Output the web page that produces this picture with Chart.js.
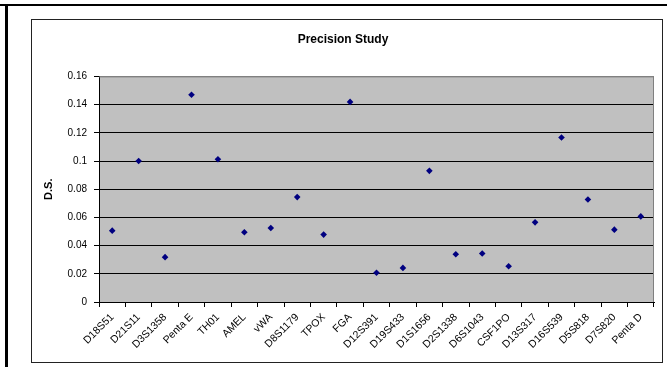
<!DOCTYPE html>
<html>
<head>
<meta charset="utf-8">
<title>Precision Study</title>
<script src="https://cdn.jsdelivr.net/npm/chart.js@4/dist/chart.umd.min.js"></script>
<style>
  html, body { margin: 0; padding: 0; background: #fff; }
  #wrap { position: relative; width: 667px; height: 367px; }
</style>
</head>
<body>
<div id="wrap"><canvas id="precisionChart" width="667" height="367"></canvas></div>
<script>
// ── Data ──────────────────────────────────────────────────────
const loci = ['D18S51', 'D21S11', 'D3S1358', 'Penta E', 'TH01', 'AMEL', 'vWA', 'D8S1179', 'TPOX', 'FGA',
  'D12S391', 'D19S433', 'D1S1656', 'D2S1338', 'D6S1043', 'CSF1PO', 'D13S317', 'D16S539', 'D5S818', 'D7S820', 'Penta D'];
const sdValues = [0.0506, 0.1000, 0.0318, 0.1470, 0.1012, 0.0495, 0.0525, 0.0744, 0.0478, 0.1419,
  0.0207, 0.0242, 0.0930, 0.0339, 0.0344, 0.0254, 0.0565, 0.1167, 0.0727, 0.0513, 0.0607];
const yTicks = [0, 0.02, 0.04, 0.06, 0.08, 0.1, 0.12, 0.14, 0.16];

const FONT = "'Liberation Sans', Arial, sans-serif";

// ── Frames: sheet border + chart area border ──────────────────
const framePlugin = {
  id: 'frames',
  beforeDraw(chart) {
    const ctx = chart.ctx;
    ctx.save();
    ctx.fillStyle = '#fff';
    ctx.fillRect(0, 0, chart.width, chart.height);
    // sheet edges (top / left)
    ctx.fillStyle = '#000';
    ctx.fillRect(0, 4, chart.width, 2);
    ctx.fillRect(5, 4, 3, chart.height - 4);
    // chart area box
    ctx.strokeStyle = '#222';
    ctx.lineWidth = 1;
    ctx.strokeRect(31.5, 19.5, 631, 343);
    // plot background
    const a = chart.chartArea;
    ctx.fillStyle = '#c0c0c0';
    ctx.fillRect(a.left, a.top, a.right - a.left, a.bottom - a.top);
    ctx.restore();
  },
  beforeDatasetsDraw(chart) {
    // plot border on top and right
    const a = chart.chartArea;
    const ctx = chart.ctx;
    ctx.save();
    ctx.strokeStyle = '#808080';
    ctx.lineWidth = 1;
    ctx.beginPath();
    ctx.moveTo(a.left, a.top + 0.5);
    ctx.lineTo(a.right - 0.5, a.top + 0.5);
    ctx.lineTo(a.right - 0.5, a.bottom);
    ctx.stroke();
    ctx.restore();
  }
};

new Chart(document.getElementById('precisionChart'), {
  type: 'line',
  data: {
    labels: loci,
    datasets: [{
      label: 'S.D.',
      data: sdValues,
      showLine: false,
      pointStyle: 'rectRot',
      pointRadius: 3.3,
      pointBackgroundColor: '#000080',
      pointBorderColor: '#000080',
      pointBorderWidth: 0
    }]
  },
  options: {
    responsive: false,
    animation: false,
    devicePixelRatio: 1,
    layout: { padding: { left: 32, top: 20, right: 13, bottom: 5 } },
    plugins: {
      legend: { display: false },
      tooltip: { enabled: false },
      title: {
        display: true,
        text: 'Precision Study',
        color: '#000',
        font: { family: FONT, size: 12, weight: 'bold' },
        padding: { top: 12, bottom: 30 }
      }
    },
    scales: {
      x: {
        offset: true,
        grid: { offset: true, drawOnChartArea: false, color: '#000', tickLength: 5, tickColor: '#000' },
        border: { color: '#000', width: 1 },
        ticks: {
          autoSkip: false, maxRotation: 45, minRotation: 45, padding: 4,
          color: '#000', font: { family: FONT, size: 10.5 }
        },
        afterFit(scale) { scale.height = 60; }
      },
      y: {
        min: 0,
        max: 0.16,
        afterBuildTicks(scale) { scale.ticks = yTicks.map(v => ({ value: v })); },
        grid: {
          color: ctx => (ctx.tick && ctx.tick.value === 0.16) ? '#808080' : '#000',
          tickColor: '#000',
          tickLength: 5,
          lineWidth: 1
        },
        border: { color: '#000', width: 1 },
        ticks: {
          padding: 7,
          color: '#000',
          font: { family: FONT, size: 10 },
          callback: v => String(+Number(v).toFixed(2))
        },
        title: {
          display: true,
          text: 'D.S.',
          color: '#000',
          font: { family: FONT, size: 11, weight: 'bold' },
          padding: { top: 10, bottom: 0 }
        },
        afterFit(scale) { scale.width = 67; }
      }
    }
  },
  plugins: [framePlugin]
});
</script>
</body>
</html>
